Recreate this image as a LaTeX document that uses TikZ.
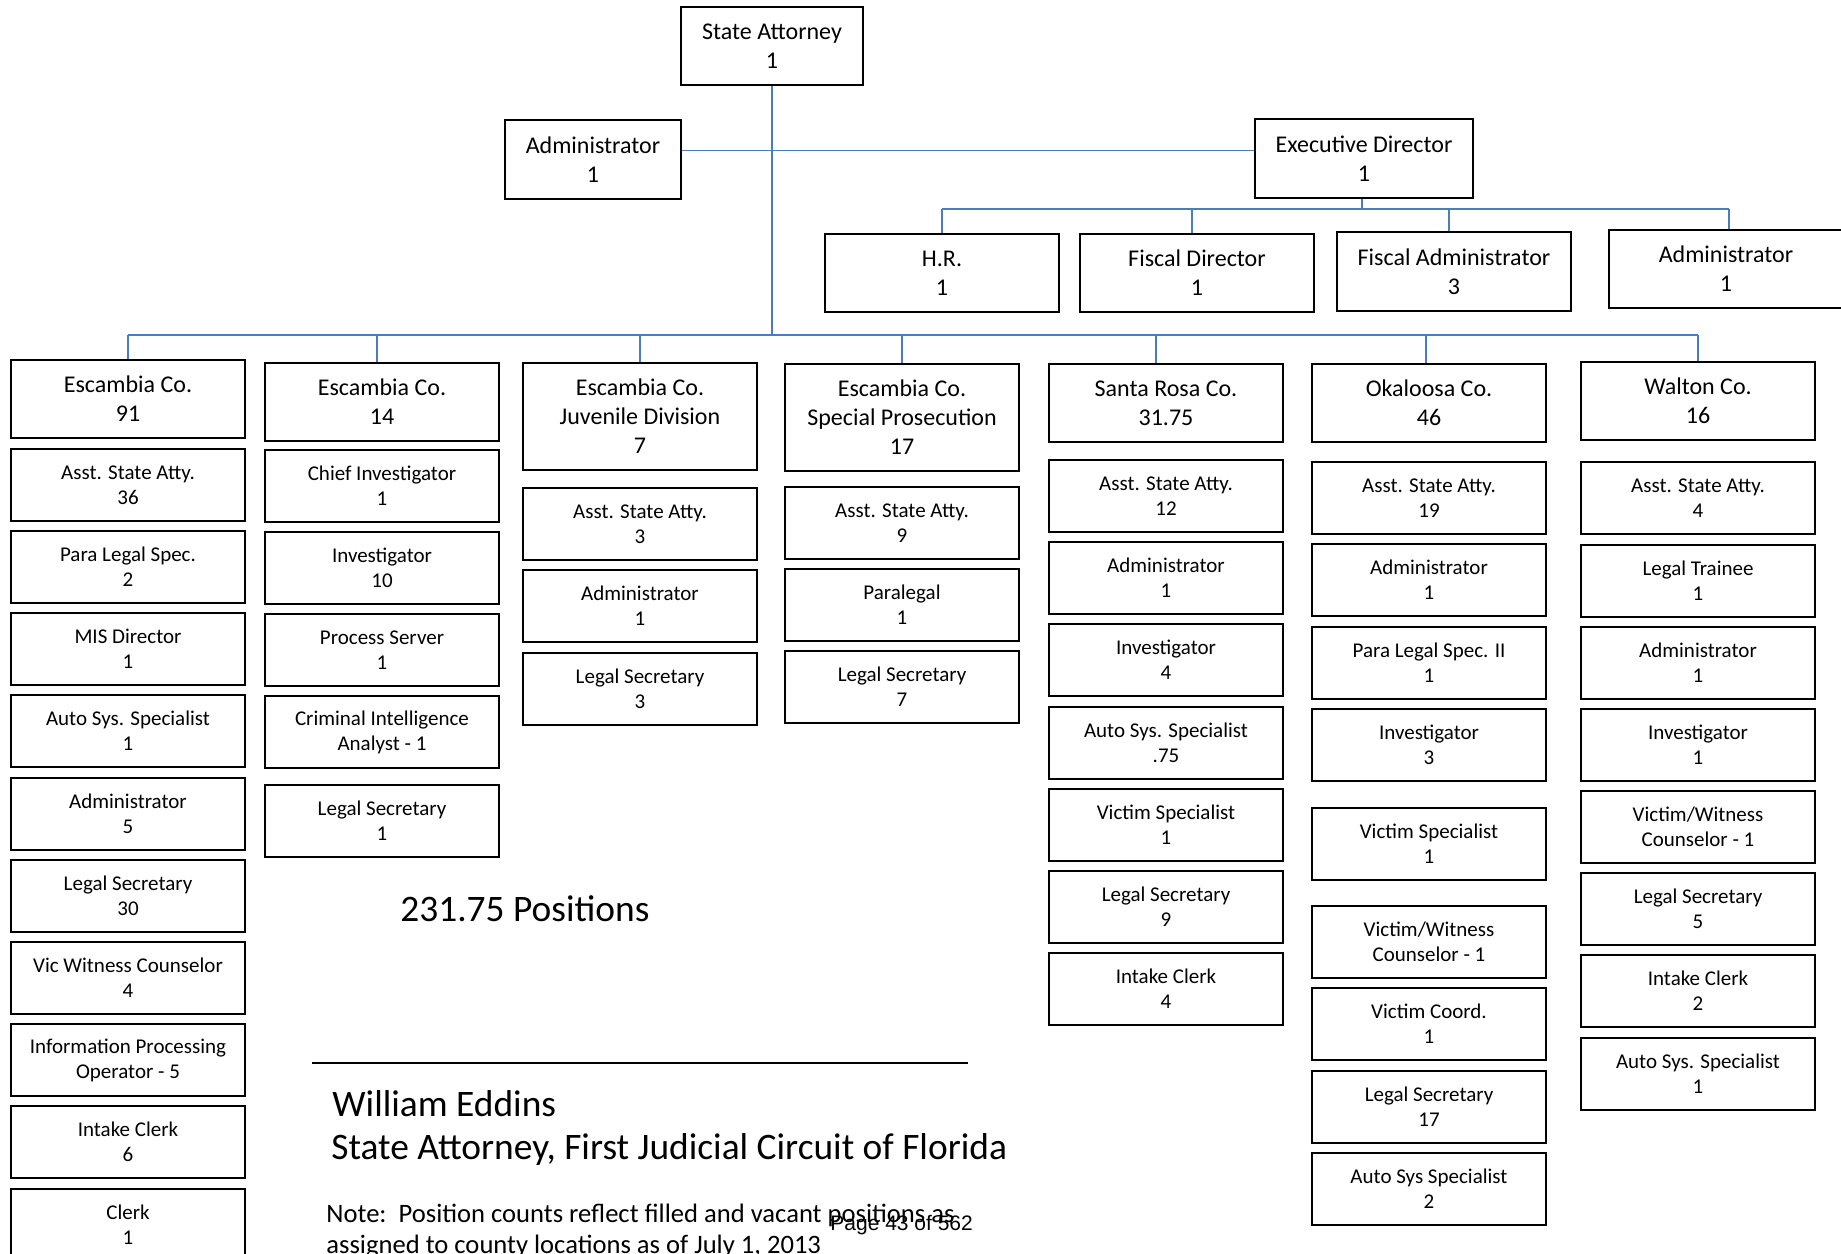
\documentclass[tikz,border=0pt]{standalone}
\usepackage{fontspec}
\setmainfont{Carlito}
\newfontfamily\pagenumfamily{Liberation Sans}
\definecolor{linkblue}{HTML}{4A7EBB}
\newcommand\headtext{\fontsize{12}{14.5}\selectfont}
\newcommand\subtext{\fontsize{10.5}{12.5}\selectfont}
\newcommand\titletext{\fontsize{18.7}{22}\selectfont}
\newcommand\memotext{\fontsize{13.3}{15}\selectfont}
\newcommand\pagenumtext{\pagenumfamily\fontsize{10.5}{12}\selectfont}
\tikzset{
  box/.style={draw=black, line width=1pt, fill=white, anchor=north west,
    inner sep=0pt, minimum width=117pt, align=center, font=\subtext},
  sub/.style={box, minimum height=36pt},
  head/.style={box, minimum height=39pt, font=\headtext},
  headtall/.style={box, minimum height=53.5pt, font=\headtext},
  link/.style={draw=linkblue, line width=0.9pt},
  label/.style={anchor=base west, inner sep=0pt},
}
\begin{document}
\begin{tikzpicture}[x=0.5pt,y=-0.5pt]
\useasboundingbox (0,0) rectangle (1841,1253);

% ---- office heads ----
\node[head, minimum width=91pt] (sa) at (680,6) {State Attorney\\1};
\node[head, minimum width=88pt, minimum height=39.5pt] (adm) at (504,119) {Administrator\\1};
\node[head, minimum width=109pt, minimum height=39.5pt] (exd) at (1254,118) {Executive Director\\1};
\node[head] (hr) at (824,233) {H.R.\\1};
\node[head] (fdir) at (1079,233) {Fiscal Director\\1};
\node[head, minimum height=39.5pt] (fadm) at (1336,231) {Fiscal Administrator\\3};
\node[head] (xadm) at (1608,229) {Administrator\\1};

% ---- Escambia Co. 91 ----
\node[head] (c1h) at (10,359) {Escambia Co.\\91};
\node[sub] (c1a) at (10,448) {Asst. State Atty.\\36};
\node[sub] (c1b) at (10,530) {Para Legal Spec.\\2};
\node[sub] (c1c) at (10,612) {MIS Director\\1};
\node[sub] (c1d) at (10,694) {Auto Sys. Specialist\\1};
\node[sub] (c1e) at (10,777) {Administrator\\5};
\node[sub] (c1f) at (10,859) {Legal Secretary\\30};
\node[sub] (c1g) at (10,941) {Vic Witness Counselor\\4};
\node[sub] (c1i) at (10,1023) {Information Processing\\Operator - 5};
\node[sub] (c1j) at (10,1105) {Intake Clerk\\6};
\node[sub] (c1k) at (10,1188) {Clerk\\1};

% ---- Escambia Co. 14 ----
\node[head] (c2h) at (264,362) {Escambia Co.\\14};
\node[sub] (c2a) at (264,449) {Chief Investigator\\1};
\node[sub] (c2b) at (264,531) {Investigator\\10};
\node[sub] (c2c) at (264,613) {Process Server\\1};
\node[sub] (c2d) at (264,695) {Criminal Intelligence\\Analyst - 1};
\node[sub] (c2e) at (264,784) {Legal Secretary\\1};

% ---- Juvenile Division ----
\node[headtall] (c3h) at (522,362) {Escambia Co.\\Juvenile Division\\7};
\node[sub] (c3a) at (522,487) {Asst. State Atty.\\3};
\node[sub] (c3b) at (522,569) {Administrator\\1};
\node[sub] (c3c) at (522,652) {Legal Secretary\\3};

% ---- Special Prosecution ----
\node[headtall] (c4h) at (784,363) {Escambia Co.\\Special Prosecution\\17};
\node[sub] (c4a) at (784,486) {Asst. State Atty.\\9};
\node[sub] (c4b) at (784,568) {Paralegal\\1};
\node[sub] (c4c) at (784,650) {Legal Secretary\\7};

% ---- Santa Rosa Co. ----
\node[head] (c5h) at (1048,363) {Santa Rosa Co.\\31.75};
\node[sub] (c5a) at (1048,459) {Asst. State Atty.\\12};
\node[sub] (c5b) at (1048,541) {Administrator\\1};
\node[sub] (c5c) at (1048,623) {Investigator\\4};
\node[sub] (c5d) at (1048,706) {Auto Sys. Specialist\\.75};
\node[sub] (c5e) at (1048,788) {Victim Specialist\\1};
\node[sub] (c5f) at (1048,870) {Legal Secretary\\9};
\node[sub] (c5g) at (1048,952) {Intake Clerk\\4};

% ---- Okaloosa Co. ----
\node[head] (c6h) at (1311,363) {Okaloosa Co.\\46};
\node[sub] (c6a) at (1311,461) {Asst. State Atty.\\19};
\node[sub] (c6b) at (1311,543) {Administrator\\1};
\node[sub] (c6c) at (1311,626) {Para Legal Spec. II\\1};
\node[sub] (c6d) at (1311,708) {Investigator\\3};
\node[sub] (c6e) at (1311,807) {Victim Specialist\\1};
\node[sub] (c6f) at (1311,905) {Victim/Witness\\Counselor - 1};
\node[sub] (c6g) at (1311,987) {Victim Coord.\\1};
\node[sub] (c6i) at (1311,1070) {Legal Secretary\\17};
\node[sub] (c6j) at (1311,1152) {Auto Sys Specialist\\2};

% ---- Walton Co. ----
\node[head] (c7h) at (1580,361) {Walton Co.\\16};
\node[sub] (c7a) at (1580,461) {Asst. State Atty.\\4};
\node[sub] (c7b) at (1580,544) {Legal Trainee\\1};
\node[sub] (c7c) at (1580,626) {Administrator\\1};
\node[sub] (c7d) at (1580,708) {Investigator\\1};
\node[sub] (c7e) at (1580,790) {Victim/Witness\\Counselor - 1};
\node[sub] (c7f) at (1580,872) {Legal Secretary\\5};
\node[sub] (c7g) at (1580,954) {Intake Clerk\\2};
\node[sub] (c7i) at (1580,1037) {Auto Sys. Specialist\\1};

% ---- connectors ----
\coordinate (staffbus) at (770,150.5);
\coordinate (execbus) at (1361,209);
\coordinate (countybus) at (770,335);

\draw[link] (sa.south) -- (sa.south |- countybus);
\draw[link] (adm.east |- staffbus) -- (exd.west |- staffbus);

\draw[link] ([xshift=-1pt]exd.south) -- ([xshift=-1pt]exd.south |- execbus);
\draw[link] (hr.north |- execbus) -- ([xshift=1.5pt]xadm.north |- execbus);
\draw[link] (hr.north |- execbus) -- (hr.north);
\draw[link] ([xshift=-2.5pt]fdir.north |- execbus) -- ([xshift=-2.5pt]fdir.north);
\draw[link] ([xshift=-2.5pt]fadm.north |- execbus) -- ([xshift=-2.5pt]fadm.north);
\draw[link] ([xshift=1.5pt]xadm.north |- execbus) -- ([xshift=1.5pt]xadm.north);

\draw[link] (c1h.north |- countybus) -- (c7h.north |- countybus);
\draw[link] (c1h.north |- countybus) -- (c1h.north);
\draw[link] ([xshift=-2.5pt]c2h.north |- countybus) -- ([xshift=-2.5pt]c2h.north);
\draw[link] (c3h.north |- countybus) -- (c3h.north);
\draw[link] (c4h.north |- countybus) -- (c4h.north);
\draw[link] ([xshift=-5pt]c5h.north |- countybus) -- ([xshift=-5pt]c5h.north);
\draw[link] ([xshift=-1.5pt]c6h.north |- countybus) -- ([xshift=-1.5pt]c6h.north);
\draw[link] (c7h.north |- countybus) -- (c7h.north);

% ---- totals and signature block ----
\node[label, font=\titletext] (total) at (400,921) {231.75 Positions};
\coordinate (ruleL) at (312,1063);
\coordinate (ruleR) at (968,1063);
\draw[line width=1.1pt] (ruleL) -- (ruleR);
\node[label, font=\titletext] (who) at (332,1116) {William Eddins};
\node[label, font=\titletext] (office) at (331,1159) {State Attorney, First Judicial Circuit of Florida};
\node[label, font=\memotext] (note1) at (326,1222) {Note:\ \ Position counts reflect filled and vacant positions as};
\node[label, font=\memotext] (note2) at (326,1253) {assigned to county locations as of July 1, 2013};
\node[label, font=\pagenumtext] (pagenum) at (830,1230) {Page 43 of 562};
\end{tikzpicture}
\end{document}
